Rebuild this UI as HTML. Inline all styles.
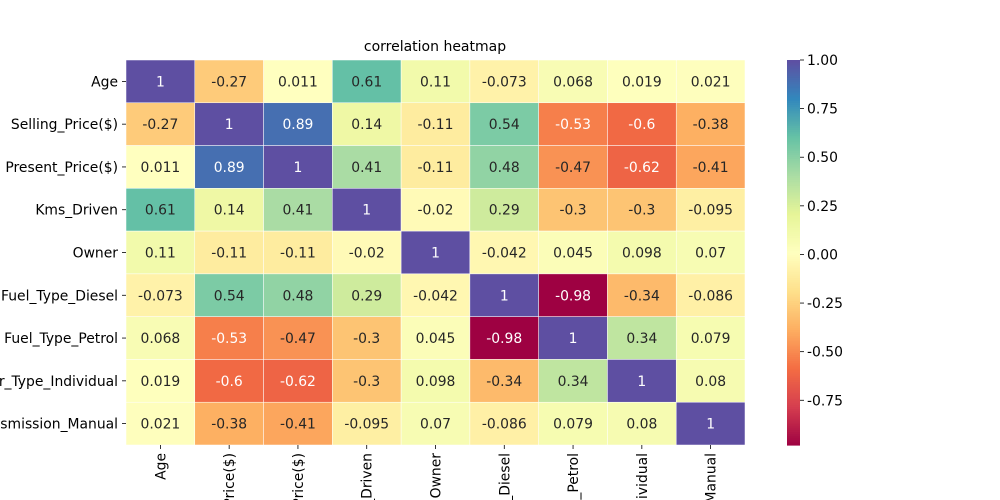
<!DOCTYPE html>
<html><head><meta charset="utf-8"><style>
html,body{margin:0;padding:0;background:#fff;width:1000px;height:500px;overflow:hidden;}
svg{display:block;overflow:hidden;font-family:"DejaVu Sans","Liberation Sans",sans-serif;}
</style></head><body>
<svg id="chart" width="1000" height="500" viewBox="0 0 1000 500">
<text x="435" y="51" text-anchor="middle" font-size="14" fill="#000">correlation heatmap</text>
<g id="cells"></g><g id="ylabels"></g><g id="xlabels"></g><g id="cbar"></g>
</svg>
<script>
const labels = ["Age","Selling_Price($)","Present_Price($)","Kms_Driven","Owner","Fuel_Type_Diesel","Fuel_Type_Petrol","Car_Type_Individual","Transmission_Manual"];
const row0 = [1,-0.27,0.011,0.61,0.11,-0.073,0.068,0.019,0.021];
const row1 = [-0.27,1,0.89,0.14,-0.11,0.54,-0.53,-0.6,-0.38];
const row2 = [0.011,0.89,1,0.41,-0.11,0.48,-0.47,-0.62,-0.41];
const row3 = [0.61,0.14,0.41,1,-0.02,0.29,-0.3,-0.3,-0.095];
const row4 = [0.11,-0.11,-0.11,-0.02,1,-0.042,0.045,0.098,0.07];
const row5 = [-0.073,0.54,0.48,0.29,-0.042,1,-0.98,-0.34,-0.086];
const row6 = [0.068,-0.53,-0.47,-0.3,0.045,-0.98,1,0.34,0.079];
const row7 = [0.019,-0.6,-0.62,-0.3,0.098,-0.34,0.34,1,0.08];
const row8 = [0.021,-0.38,-0.41,-0.095,0.07,-0.086,0.079,0.08,1];
const matrix = [row0,row1,row2,row3,row4,row5,row6,row7,row8];
const cbarTicks = [1.00,0.75,0.50,0.25,0.00,-0.25,-0.50,-0.75];
const vmin = -0.98, vmax = 1.0;

const NS="http://www.w3.org/2000/svg";
const L=126,R=745,T=60,B=445;
const FS=13.9;
const n=labels.length, cw=(R-L)/n, ch=(B-T)/n;
const stops=[[158,1,66],[213,62,79],[244,109,67],[253,174,97],[254,224,139],[255,255,191],[230,245,152],[171,221,164],[102,194,165],[50,136,189],[94,79,162]];
function cmap(v){let t=(v-vmin)/(vmax-vmin);t=Math.max(0,Math.min(1,t))*10;let i=Math.min(9,Math.floor(t)),f=t-i;const a=stops[i],b=stops[i+1];return [0,1,2].map(k=>a[k]+(b[k]-a[k])*f);}
function lum(c){const l=c.map(x=>{x/=255;return x<=0.03928?x/12.92:Math.pow((x+0.055)/1.055,2.4)});return 0.2126*l[0]+0.7152*l[1]+0.0722*l[2];}
function mk(tag,attrs,parent){const e=document.createElementNS(NS,tag);for(const k in attrs)e.setAttribute(k,attrs[k]);parent.appendChild(e);return e;}
const xs=i=>L+i*cw, ys=j=>T+j*ch;
const gc=document.getElementById('cells');
matrix.forEach((row,j)=>row.forEach((v,i)=>{
  const c=cmap(v);
  const r=mk('rect',{x:xs(i),y:ys(j),width:cw,height:ch,fill:`rgb(${c.map(Math.round).join(',')})`,stroke:'#fff','stroke-width':0.5},gc);
  
  
  const t=mk('text',{x:xs(i)+cw/2,y:ys(j)+ch/2+5,'text-anchor':'middle','font-size':FS,fill:lum(c)>0.408?'#262626':'#fff'},gc);
  t.textContent=String(v);
  
  
}));
const gy=document.getElementById('ylabels'),gx=document.getElementById('xlabels');
labels.forEach((lab,j)=>{
  mk('line',{x1:L-4,x2:L,y1:ys(j)+ch/2,y2:ys(j)+ch/2,stroke:'#000','stroke-width':0.8},gy);
  const t=mk('text',{x:L-8,y:ys(j)+ch/2+5,'text-anchor':'end','font-size':FS,fill:'#000'},gy);
  t.textContent=lab;
  
  
  const cx=xs(j)+cw/2;
  mk('line',{x1:cx,x2:cx,y1:B,y2:B+4,stroke:'#000','stroke-width':0.8},gx);
  const u=mk('text',{x:0,y:0,'text-anchor':'end','font-size':FS,fill:'#000',transform:`translate(${cx+5},${B+8}) rotate(-90)`},gx);
  u.textContent=lab;
  
  
});
const cb=document.getElementById('cbar');
const CX=787,CW=13;
const cy=v=>B-(v-vmin)/(vmax-vmin)*(B-T);
for(let k=0;k<200;k++){const v0=vmin+(vmax-vmin)*k/200,v1=vmin+(vmax-vmin)*(k+1)/200;const c=cmap((v0+v1)/2);
  mk('rect',{x:CX,y:cy(v1),width:CW,height:cy(v0)-cy(v1)+0.6,fill:`rgb(${c.map(Math.round).join(',')})`},cb);}
cbarTicks.forEach(v=>{
  mk('line',{x1:CX+CW,x2:CX+CW+4,y1:cy(v),y2:cy(v),stroke:'#000','stroke-width':0.8},cb);
  const t=mk('text',{x:CX+CW+7,y:cy(v)+5,'font-size':FS,fill:'#000'},cb);
  t.textContent=v.toFixed(2);
  
  
});
</script>
</body></html>
